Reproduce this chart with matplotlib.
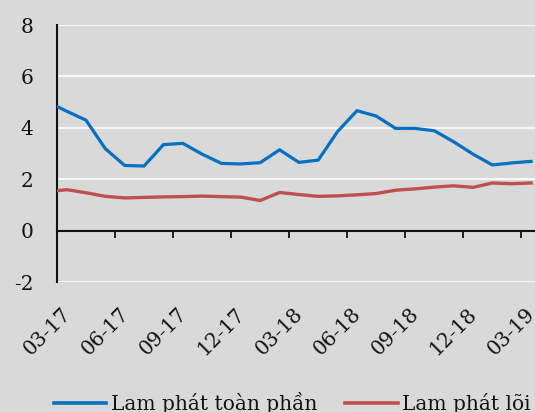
import numpy as np
import matplotlib
matplotlib.use('Agg')
import matplotlib.pyplot as plt
from matplotlib.lines import Line2D

months = ['02-17', '03-17', '04-17', '05-17', '06-17', '07-17', '08-17', '09-17',
          '10-17', '11-17', '12-17', '01-18', '02-18', '03-18', '04-18', '05-18',
          '06-18', '07-18', '08-18', '09-18', '10-18', '11-18', '12-18', '01-19',
          '02-19', '03-19']
headline = [5.02, 4.65, 4.30, 3.19, 2.54, 2.52, 3.35, 3.40, 2.98, 2.62, 2.60,
            2.65, 3.15, 2.66, 2.75, 3.86, 4.67, 4.46, 3.98, 3.98, 3.89, 3.46, 2.98,
            2.56, 2.64, 2.70]
core = [1.52, 1.60, 1.48, 1.34, 1.28, 1.30, 1.32, 1.33, 1.35, 1.33, 1.31,
        1.18, 1.49, 1.41, 1.34, 1.36, 1.40, 1.45, 1.58, 1.63, 1.70, 1.75, 1.69,
        1.86, 1.83, 1.86]
series_names = ['Lạm phát toàn phần', 'Lạm phát lõi']
yticks = [-2, 0, 2, 4, 6, 8]

plt.rcParams['font.family'] = ['DejaVu Serif']
FS = 14.5
BG = '#D9D9D9'
BLUE = '#0070C0'
RED = '#C0504D'

W, H = 535, 412
fig = plt.figure(figsize=(W / 100, H / 100), dpi=100, facecolor=BG)
left_px, right_px, top_px, bot_px = 57, 540.8, 25, 282.3
ax = fig.add_axes([left_px / W, (H - bot_px) / H, (right_px - left_px) / W, (bot_px - top_px) / H])
ax.set_facecolor(BG)

x = np.arange(len(months))
ax.plot(x, headline, color=BLUE, lw=2.3, solid_joinstyle='round', zorder=4)
ax.plot(x, core, color=RED, lw=2.4, solid_joinstyle='round', zorder=4)

ax.set_xlim(0.5, len(months) - 0.5)
ax.set_ylim(-2, 8)
ax.set_yticks(yticks)
ax.set_yticklabels([str(v) for v in yticks])
ax.yaxis.grid(True, color='white', lw=1.2)
ax.set_axisbelow(True)

for s in ['top', 'right']:
    ax.spines[s].set_visible(False)
ax.spines['left'].set_linewidth(1.5)
ax.spines['left'].set_color('#111111')
ax.spines['bottom'].set_position(('data', 0))
ax.spines['bottom'].set_linewidth(1.5)
ax.spines['bottom'].set_color('#111111')
ax.spines['bottom'].set_zorder(3)

ax.set_xticks(np.arange(0.5, len(months), 3))
ax.set_xticklabels([])
ax.tick_params(axis='x', direction='out', length=5, width=1.3, color='#111111')
ax.tick_params(axis='y', length=0, pad=17, labelsize=FS, labelcolor='#111111')

for i in range(1, len(months), 3):
    ax.text(i - 0.3, -0.085, months[i], transform=ax.get_xaxis_transform(), rotation=45,
            ha='right', va='top', rotation_mode='anchor', fontsize=FS, color='#111111')

handles = [Line2D([], [], color=BLUE, lw=2.6), Line2D([], [], color=RED, lw=2.6)]
fig.legend(handles, series_names, loc='center left', bbox_to_anchor=(54 / W, 9 / H),
           ncol=2, frameon=False, fontsize=FS, handlelength=2.6, handletextpad=0.22,
           columnspacing=1.4, borderpad=0, borderaxespad=0, labelcolor='#111111')

fig.savefig('out.png', dpi=100, facecolor=BG)
